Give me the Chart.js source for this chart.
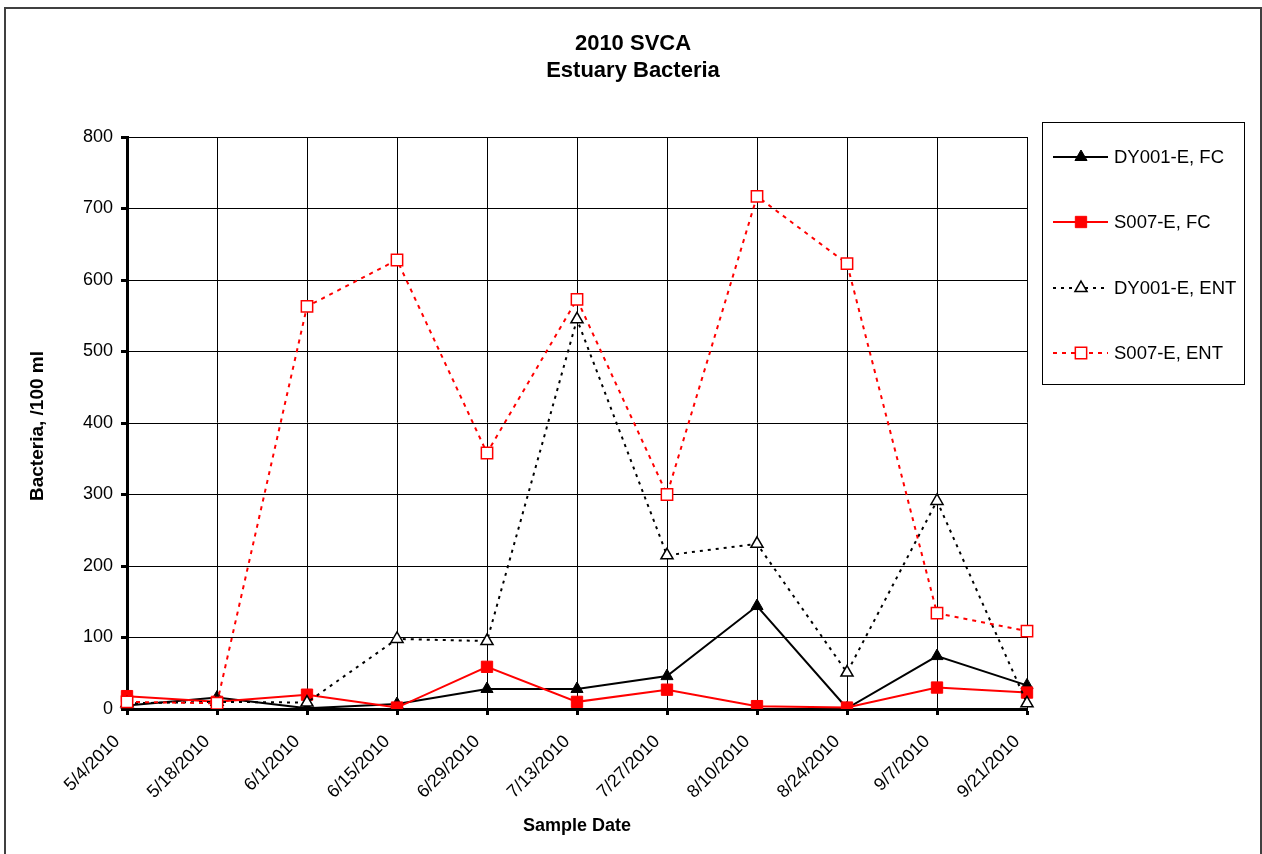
<!DOCTYPE html>
<html>
<head>
<meta charset="utf-8">
<script src="https://cdn.jsdelivr.net/npm/chart.js@4/dist/chart.umd.min.js"></script>
<style>
  html, body { margin: 0; padding: 0; background: #fff; }
  #c { display: block; }
</style>
</head>
<body>
<canvas id="c" width="1262" height="854"></canvas>
<script>
// Sample dates (every two weeks)
const sampleDates = ['5/4/2010', '5/18/2010', '6/1/2010', '6/15/2010', '6/29/2010', '7/13/2010',
                     '7/27/2010', '8/10/2010', '8/24/2010', '9/7/2010', '9/21/2010'];

// Bacteria counts, /100 ml
const dy001FC  = [5, 16, 1, 7, 28, 28, 46, 144, 1, 74, 33];
const s007FC   = [18, 10, 20, 2, 59, 10, 27, 4, 2, 30, 23];
const dy001ENT = [8, 10, 9, 98, 95, 545, 215, 231, 51, 291, 8];
const s007ENT  = [10, 8, 563, 628, 358, 573, 300, 717, 623, 134, 109];

const seriesNames = ['DY001-E, FC', 'S007-E, FC', 'DY001-E, ENT', 'S007-E, ENT'];
const yTicks = [0, 100, 200, 300, 400, 500, 600, 700, 800];

const FONT = "'Liberation Sans', Arial, sans-serif";
const RED = '#ff0000';

const datasets = [
  { label: seriesNames[0], data: dy001FC, borderColor: '#000', backgroundColor: '#000',
    borderWidth: 2, pointStyle: 'triangle', pointRadius: 7, pointBorderWidth: 1, order: 3 },
  { label: seriesNames[1], data: s007FC, borderColor: RED, backgroundColor: RED,
    borderWidth: 2, pointStyle: 'rect', pointRadius: 8, pointBorderWidth: 1, order: 2 },
  { label: seriesNames[2], data: dy001ENT, borderColor: '#000', backgroundColor: '#fff',
    borderWidth: 2, borderDash: [3, 5], pointStyle: 'triangle', pointRadius: 7, pointBorderWidth: 1.5, order: 1 },
  { label: seriesNames[3], data: s007ENT, borderColor: RED, backgroundColor: '#fff',
    borderWidth: 2, borderDash: [4, 5], pointStyle: 'rect', pointRadius: 8, pointBorderWidth: 1.5, order: 0 }
];
datasets.forEach(d => { d.tension = 0; d.fill = false; d.pointBorderColor = d.borderColor; d.pointBackgroundColor = d.backgroundColor; });

// Frame, titles and the boxed legend
const decorations = {
  id: 'decorations',
  afterDraw(chart) {
    const ctx = chart.ctx;
    const area = chart.chartArea;
    ctx.save();

    // outer frame
    ctx.strokeStyle = '#404040';
    ctx.lineWidth = 2;
    ctx.strokeRect(5, 8, 1256, 860);

    ctx.fillStyle = '#000';
    ctx.textAlign = 'center';
    ctx.textBaseline = 'middle';
    ctx.font = 'bold 22px ' + FONT;
    ctx.fillText('2010 SVCA', 633, 44);
    ctx.fillText('Estuary Bacteria', 633, 71);

    ctx.font = 'bold 18px ' + FONT;
    ctx.fillText('Sample Date', (area.left + area.right) / 2, 826);
    ctx.save();
    ctx.font = 'bold 19px ' + FONT;
    ctx.translate(38, 426);
    ctx.rotate(-Math.PI / 2);
    ctx.fillText('Bacteria, /100 ml', 0, 0);
    ctx.restore();

    // legend box
    ctx.strokeStyle = '#000';
    ctx.lineWidth = 1;
    ctx.strokeRect(1042.5, 122.5, 202, 262);
    const rows = [157, 222, 288, 353];
    ctx.font = '18.5px ' + FONT;
    ctx.textAlign = 'left';
    chart.data.datasets.forEach((ds, i) => {
      const y = rows[i];
      ctx.save();
      ctx.strokeStyle = ds.borderColor;
      ctx.lineWidth = ds.borderWidth;
      ctx.setLineDash(ds.borderDash || []);
      ctx.beginPath();
      ctx.moveTo(1053, y);
      ctx.lineTo(1108, y);
      ctx.stroke();
      ctx.setLineDash([]);
      ctx.fillStyle = ds.backgroundColor;
      ctx.strokeStyle = ds.borderColor;
      ctx.lineWidth = ds.pointBorderWidth;
      Chart.helpers.drawPoint(ctx, { pointStyle: ds.pointStyle, rotation: 0,
        radius: ds.pointRadius, borderWidth: ds.pointBorderWidth }, 1081, y);
      ctx.restore();
      ctx.fillStyle = '#000';
      ctx.fillText(ds.label, 1114, y + 1);
    });
    ctx.restore();
  }
};

new Chart(document.getElementById('c'), {
  type: 'line',
  data: { labels: sampleDates, datasets },
  options: {
    responsive: false,
    animation: false,
    devicePixelRatio: 1,
    layout: { padding: { top: 137, right: 235, left: 0, bottom: 0 } },
    plugins: { legend: { display: false }, tooltip: { enabled: false } },
    elements: { line: { borderCapStyle: 'butt' } },
    scales: {
      x: {
        offset: false,
        grid: { color: '#000', lineWidth: 1, tickLength: 6, tickWidth: 3, tickColor: '#000' },
        border: { color: '#000', width: 3 },
        ticks: { autoSkip: false, minRotation: 45, maxRotation: 45, color: '#000',
                 font: { family: FONT, size: 18 }, padding: 16, labelOffset: -10 },
        afterFit(scale) { scale.height = 145; }
      },
      y: {
        min: 0, max: 800,
        afterBuildTicks(scale) { scale.ticks = yTicks.map(v => ({ value: v })); },
        grid: { color: '#000', lineWidth: 1, tickLength: 6, tickWidth: 3, tickColor: '#000' },
        border: { color: '#000', width: 3 },
        ticks: { color: '#000', font: { family: FONT, size: 18 }, padding: 8 },
        afterFit(scale) { scale.width = 127; }
      }
    }
  },
  plugins: [decorations]
});
</script>
</body>
</html>
